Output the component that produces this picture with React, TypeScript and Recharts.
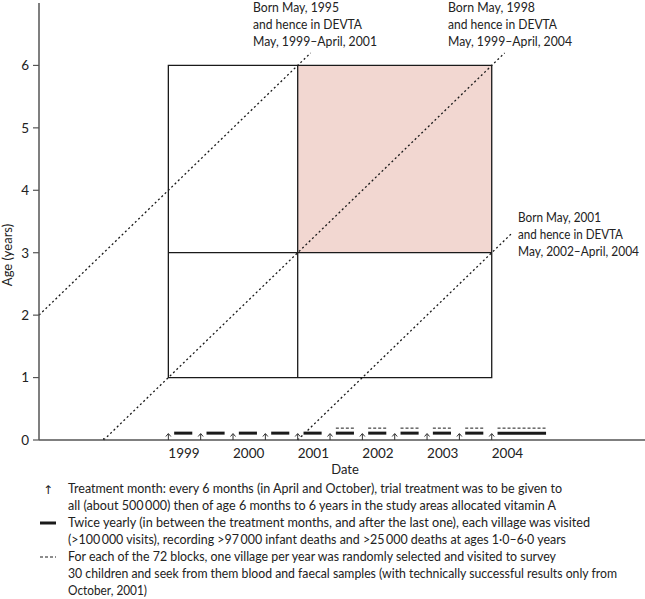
import React from "react";
import {
  ComposedChart,
  XAxis,
  YAxis,
  Scatter,
  ReferenceArea,
  ReferenceLine,
} from "recharts";

// time axis is in fractional years (x.33 = May)
const yearTicks = [1999.33, 2000.33, 2001.33, 2002.33, 2003.33, 2004.33];
const yearLabels = ["1999", "2000", "2001", "2002", "2003", "2004"];
const ageTicks = [0, 1, 2, 3, 4, 5, 6];

// treatment months (arrows)
const treatmentMonths = [
  1999.33, 1999.83, 2000.33, 2000.83, 2001.33, 2001.83, 2002.33, 2002.83,
  2003.33, 2003.83, 2004.33,
];

// twice-yearly village visits (thick bars)
const visitStarts = [
  1999.42, 1999.92, 2000.42, 2000.92, 2001.42, 2001.92, 2002.42, 2002.92,
  2003.42, 2003.92, 2004.42,
];
const visitEnds = [
  1999.7, 2000.2, 2000.7, 2001.2, 2001.7, 2002.2, 2002.7, 2003.2, 2003.7,
  2004.2, 2005.17,
];

// yearly block surveys (dashed)
const surveyStarts = [2001.92, 2002.42, 2002.92, 2003.42, 2003.92, 2004.42];
const surveyEnds = [2002.21, 2002.71, 2003.21, 2003.71, 2004.21, 2005.17];

// birth cohorts (dotted diagonals)
const cohortBirth = [1995.33, 1998.33, 2001.33];
const cohortStartT = [1997.33, 1998.33, 2001.33];
const cohortEndT = [2001.53, 2004.53, 2004.63];
const cohortLabels = ["Born May, 1995", "Born May, 1998", "Born May, 2001"];
const cohortSpans = [
  "May, 1999–April, 2001",
  "May, 1999–April, 2004",
  "May, 2002–April, 2004",
];

// trial box
const trialStart = 1999.33;
const trialSplit = 2001.33;
const trialEnd = 2004.33;
const ageLow = 1;
const ageSplit = 3;
const ageHigh = 6;

const legendLines = [
  "Treatment month: every 6 months (in April and October), trial treatment was to be given to",
  "all (about 500\u2009000) then of age 6 months to 6 years in the study areas allocated vitamin A",
  "Twice yearly (in between the treatment months, and after the last one), each village was visited",
  "(>100\u2009000 visits), recording >97\u2009000 infant deaths and >25\u2009000 deaths at ages 1·0–6·0 years",
  "For each of the 72 blocks, one village per year was randomly selected and visited to survey",
  "30 children and seek from them blood and faecal samples (with technically successful results only from",
  "October, 2001)",
];
const legendEnds = [562, 556, 590, 566, 556, 617, 147];

const FONT = "Lato, 'Open Sans', sans-serif";
const INK = "#1a1a1a";
const AXIS = "#555";

const visitAge = 0.11;
const surveyAge = 0.19;

const arrowData = treatmentMonths.map((t) => ({ t, age: 0 }));
const birthMark = [{ t: cohortBirth[1], age: 0 }];

const YearTick = (props: any) => {
  const { x, y, payload } = props;
  const i = yearTicks.indexOf(payload.value);
  return (
    <text x={x} y={y + 10} textAnchor="start" fontSize={13.5} fill="#222" fontFamily={FONT}>
      {yearLabels[i]}
    </text>
  );
};

const ArrowShape = (props: any) => {
  const { cx, cy } = props;
  return (
    <g stroke="#333" strokeWidth={1} fill="none">
      <line x1={cx} y1={cy + 2} x2={cx} y2={cy - 6} />
      <path d={`M${cx - 2.5},${cy - 3.5} L${cx},${cy - 6.5} L${cx + 2.5},${cy - 3.5}`} />
    </g>
  );
};

const BirthShape = (props: any) => {
  const { cx, cy } = props;
  return (
    <g stroke="#333" strokeWidth={1.2} fill="none">
      <line x1={cx} y1={cy - 2} x2={cx} y2={cy + 7} />
    </g>
  );
};

export default function App() {
  const dotted = { stroke: INK, strokeWidth: 1.3, strokeDasharray: "2 2.6" };
  const notes = [
    { x: 253, y: 12 },
    { x: 448, y: 12 },
    { x: 518, y: 222 },
  ];
  const noteWidths = [
    [86, 109, 124],
    [87, 109, 124],
    [83, 105, 121],
  ];
  return (
    <div style={{ position: "absolute", left: 0, top: 0, width: 645, height: 599, background: "#fff" }}>
      <ComposedChart
        width={645}
        height={599}
        margin={{ top: 3, right: 0, bottom: 129, left: 0 }}
      >
        <XAxis
          type="number"
          dataKey="t"
          domain={[1997.33, 2006.7]}
          ticks={yearTicks}
          tick={<YearTick />}
          tickLine={false}
          axisLine={{ stroke: AXIS, strokeWidth: 1.5 }}
          height={30}
          allowDataOverflow
        />
        <YAxis
          type="number"
          dataKey="age"
          domain={[0, 7]}
          ticks={ageTicks}
          width={39}
          tickSize={6}
          tickMargin={4}
          axisLine={{ stroke: AXIS, strokeWidth: 1.5 }}
          tickLine={{ stroke: AXIS, strokeWidth: 1.2 }}
          tick={{ fontSize: 13.5, fill: "#222", fontFamily: FONT }}
          allowDataOverflow
        />

        <ReferenceArea
          x1={trialSplit}
          x2={trialEnd}
          y1={ageSplit}
          y2={ageHigh}
          fill="#f2d7d1"
          fillOpacity={1}
          stroke="none"
        />
        <ReferenceArea
          x1={trialStart}
          x2={trialEnd}
          y1={ageLow}
          y2={ageHigh}
          fill="none"
          fillOpacity={0}
          stroke={INK}
          strokeWidth={1.3}
        />
        <ReferenceLine
          segment={[{ x: trialSplit, y: ageLow }, { x: trialSplit, y: ageHigh }]}
          stroke={INK}
          strokeWidth={1.3}
        />
        <ReferenceLine
          segment={[{ x: trialStart, y: ageSplit }, { x: trialEnd, y: ageSplit }]}
          stroke={INK}
          strokeWidth={1.3}
        />

        {cohortBirth.map((b, i) => (
          <ReferenceLine
            key={"c" + i}
            segment={[
              { x: cohortStartT[i], y: cohortStartT[i] - b },
              { x: cohortEndT[i], y: cohortEndT[i] - b },
            ]}
            {...dotted}
          />
        ))}

        {visitStarts.map((s, i) => (
          <ReferenceLine
            key={"v" + i}
            segment={[{ x: s, y: visitAge }, { x: visitEnds[i], y: visitAge }]}
            stroke={INK}
            strokeWidth={3}
          />
        ))}
        {surveyStarts.map((s, i) => (
          <ReferenceLine
            key={"s" + i}
            segment={[{ x: s, y: surveyAge }, { x: surveyEnds[i], y: surveyAge }]}
            stroke={INK}
            strokeWidth={1}
            strokeDasharray="3 2"
          />
        ))}

        <Scatter data={arrowData} dataKey="age" shape={<ArrowShape />} isAnimationActive={false} />
        <Scatter data={birthMark} dataKey="age" shape={<BirthShape />} isAnimationActive={false} />
      </ComposedChart>

      <svg
        width={645}
        height={599}
        style={{ position: "absolute", left: 0, top: 0, pointerEvents: "none" }}
        fontFamily={FONT}
      >
        {/* cohort notes */}
        {notes.map((p, i) => (
          <g key={"n" + i} fontSize={i === 2 ? 12.5 : 13} fill="#222">
            <text x={p.x} y={p.y} textLength={noteWidths[i][0]} lengthAdjust="spacingAndGlyphs">
              {cohortLabels[i]}
            </text>
            <text x={p.x} y={p.y + 16.8} textLength={noteWidths[i][1]} lengthAdjust="spacingAndGlyphs">
              and hence in DEVTA
            </text>
            <text x={p.x} y={p.y + 33.6} textLength={noteWidths[i][2]} lengthAdjust="spacingAndGlyphs">
              {cohortSpans[i]}
            </text>
          </g>
        ))}

        <text
          x={0}
          y={0}
          transform="translate(12,255) rotate(-90)"
          textAnchor="middle"
          fontSize={13}
          fill="#222"
        >
          Age (years)
        </text>
        <text x={345} y={474} textAnchor="middle" fontSize={13} fill="#222">
          Date
        </text>

        {/* legend */}
        <text x={48} y={494} textAnchor="middle" fontSize={12} fill="#222" fontFamily="'DejaVu Sans'">
          ↑
        </text>
        <line x1={40} y1={523} x2={56} y2={523} stroke={INK} strokeWidth={3} />
        <line x1={40} y1={557} x2={56} y2={557} stroke={INK} strokeWidth={1} strokeDasharray="3 2" />
        {legendLines.map((l, i) => (
          <text
            key={"l" + i}
            x={68}
            y={493 + i * 17}
            fontSize={12.5}
            fill="#222"
            textLength={legendEnds[i] - 68}
            lengthAdjust="spacingAndGlyphs"
          >
            {l}
          </text>
        ))}
      </svg>
    </div>
  );
}
